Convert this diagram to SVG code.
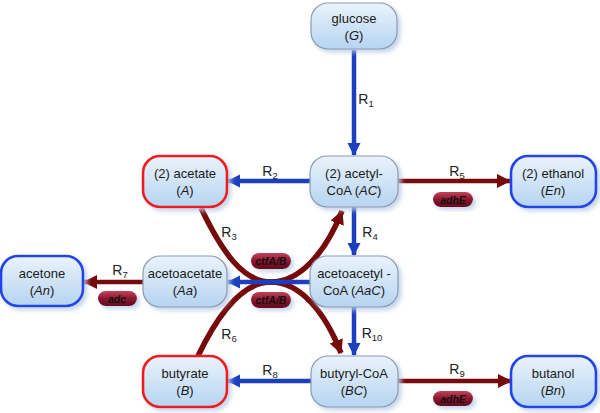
<svg xmlns="http://www.w3.org/2000/svg" width="600" height="413" viewBox="0 0 600 413">
<defs>
<linearGradient id="nodeGrad" x1="0" y1="0" x2="0" y2="1">
<stop offset="0" stop-color="#eaf3fc"/>
<stop offset="1" stop-color="#b6d4f1"/>
</linearGradient>
<linearGradient id="pillGrad" x1="0" y1="0" x2="0" y2="1">
<stop offset="0" stop-color="#c04458"/>
<stop offset="0.5" stop-color="#8e1630"/>
<stop offset="1" stop-color="#62081c"/>
</linearGradient>
<filter id="shadow" x="-20%" y="-20%" width="150%" height="150%">
<feDropShadow dx="3" dy="3" stdDeviation="2" flood-color="#b8cbe6" flood-opacity="0.8"/>
</filter>
<marker id="arrB" markerUnits="userSpaceOnUse" markerWidth="14" markerHeight="14" refX="12" refY="6.5" orient="auto">
<path d="M0,0 L13,6.5 L0,13 z" fill="#1c3fbf"/>
</marker>
<marker id="arrR" markerUnits="userSpaceOnUse" markerWidth="16" markerHeight="16" refX="13" refY="7" orient="auto">
<path d="M0,0 L14,7 L0,14 z" fill="#760b0b"/>
</marker>
</defs>
<style>
.node rect { fill: url(#nodeGrad); filter: url(#shadow); }
.grey { stroke: #8b9bb0; stroke-width: 1.2; }
.red { stroke: #ee1c1c; stroke-width: 2.6; }
.blue { stroke: #2244e8; stroke-width: 2.6; }
text { font-family: "Liberation Sans", Arial, sans-serif; font-size: 13px; fill: #1a1a1a; text-anchor: middle; }
.lbl { font-size: 14px; fill: #222; }
.sub { font-size: 9.5px; }
.bl { fill: none; stroke: #1c3fbf; stroke-width: 4.5; marker-end: url(#arrB); }
.rd { fill: none; stroke: #760b0b; stroke-width: 4.5; marker-end: url(#arrR); }
.cv { fill: none; stroke: #760b0b; stroke-width: 5.5; marker-end: url(#arrR); }
.pill rect { fill: url(#pillGrad); filter: url(#shadow); }
.pill text { font-size: 10.5px; font-style: italic; font-weight: bold; fill: #111; }
</style>

<g id="connectors">
<path id="R3" class="cv" d="M201,208 C 222,252 243,282 271,282 C 300,282 325,312 341,353"/>
<path id="R6" class="cv" d="M198,356 C 219,312 243,282 271,282 C 300,282 326,252 342,211"/>
<path id="R1" class="bl" d="M354,50 L354,155"/>
<path id="R2" class="bl" d="M310,181 L228,181"/>
<path id="R5" class="rd" d="M398,181 L510,181"/>
<path id="R4" class="bl" d="M354,207 L354,255"/>
<path id="Rx" class="bl" d="M310,282 L228,282"/>
<path id="R7" class="rd" d="M143,282 L84,282"/>
<path id="R10" class="bl" d="M354,307 L354,355"/>
<path id="R8" class="bl" d="M311,381 L228,381"/>
<path id="R9" class="rd" d="M398,381 L511,381"/>
</g>

<g id="labels">
<text class="lbl" x="366" y="104">R<tspan class="sub" dy="3">1</tspan></text>
<text class="lbl" x="270" y="176">R<tspan class="sub" dy="3">2</tspan></text>
<text class="lbl" x="457" y="176">R<tspan class="sub" dy="3">5</tspan></text>
<text class="lbl" x="229" y="237">R<tspan class="sub" dy="3">3</tspan></text>
<text class="lbl" x="370" y="237">R<tspan class="sub" dy="3">4</tspan></text>
<text class="lbl" x="120" y="275">R<tspan class="sub" dy="3">7</tspan></text>
<text class="lbl" x="229" y="339">R<tspan class="sub" dy="3">6</tspan></text>
<text class="lbl" x="372" y="338">R<tspan class="sub" dy="3">10</tspan></text>
<text class="lbl" x="270" y="375">R<tspan class="sub" dy="3">8</tspan></text>
<text class="lbl" x="457" y="374">R<tspan class="sub" dy="3">9</tspan></text>
</g>

<g id="pill-adhE-1" class="pill"><rect x="433" y="192" width="40" height="15" rx="7.5"/><text x="453" y="203.5">adhE</text></g>
<g id="pill-adhE-2" class="pill"><rect x="433" y="391" width="40" height="15" rx="7.5"/><text x="453" y="402.5">adhE</text></g>
<g id="pill-adc" class="pill"><rect x="98" y="291" width="39" height="15" rx="7.5"/><text x="117" y="302.5">adc</text></g>
<g id="pill-ctf-1" class="pill"><rect x="251" y="253" width="40" height="16" rx="8"/><text x="271" y="265">ctfA/B</text></g>
<g id="pill-ctf-2" class="pill"><rect x="251" y="292" width="40" height="16" rx="8"/><text x="271" y="304">ctfA/B</text></g>

<g id="glucose" class="node"><rect class="grey" x="311" y="3" width="86" height="46" rx="17"/><text x="354" y="23">glucose</text><text x="354" y="40">(<tspan font-style="italic">G</tspan>)</text></g>
<g id="acetylCoA" class="node"><rect class="grey" x="310" y="156" width="88" height="51" rx="17"/><text x="354" y="178">(2) acetyl-</text><text x="354" y="195">CoA (<tspan font-style="italic">AC</tspan>)</text></g>
<g id="acetate" class="node"><rect class="red" x="143" y="156" width="84" height="51" rx="17"/><text x="185" y="178">(2) acetate</text><text x="185" y="195">(<tspan font-style="italic">A</tspan>)</text></g>
<g id="ethanol" class="node"><rect class="blue" x="511" y="156" width="85" height="51" rx="17"/><text x="553" y="178">(2) ethanol</text><text x="553" y="195">(<tspan font-style="italic">En</tspan>)</text></g>
<g id="acetone" class="node"><rect class="blue" x="1" y="256" width="82" height="50" rx="17"/><text x="42" y="278">acetone</text><text x="42" y="295">(<tspan font-style="italic">An</tspan>)</text></g>
<g id="acetoacetate" class="node"><rect class="grey" x="143" y="256" width="84" height="51" rx="17"/><text x="185" y="278">acetoacetate</text><text x="185" y="295">(<tspan font-style="italic">Aa</tspan>)</text></g>
<g id="acetoacetylCoA" class="node"><rect class="grey" x="310" y="256" width="88" height="51" rx="17"/><text x="354" y="278">acetoacetyl -</text><text x="354" y="295">CoA (<tspan font-style="italic">AaC</tspan>)</text></g>
<g id="butyrate" class="node"><rect class="red" x="143" y="356" width="84" height="51" rx="17"/><text x="185" y="378">butyrate</text><text x="185" y="395">(<tspan font-style="italic">B</tspan>)</text></g>
<g id="butyrylCoA" class="node"><rect class="grey" x="311" y="356" width="87" height="51" rx="17"/><text x="354" y="378">butyryl-CoA</text><text x="354" y="395">(<tspan font-style="italic">BC</tspan>)</text></g>
<g id="butanol" class="node"><rect class="blue" x="511" y="356" width="85" height="51" rx="17"/><text x="553" y="378">butanol</text><text x="553" y="395">(<tspan font-style="italic">Bn</tspan>)</text></g>
</svg>
